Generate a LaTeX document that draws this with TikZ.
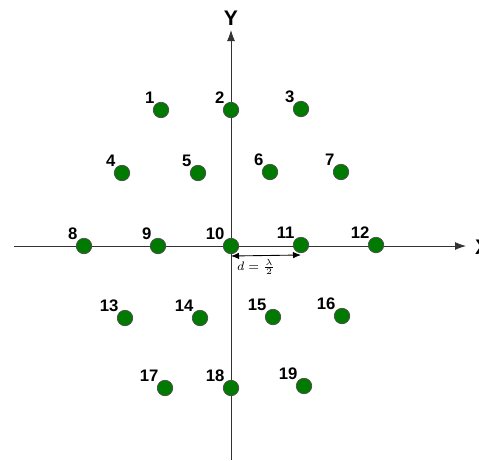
\documentclass[tikz,border=0pt]{standalone}
\usepackage{fontspec}
\setmainfont{Liberation Sans}
\usepackage{tikz}
\usetikzlibrary{arrows.meta}
\definecolor{DGreen}{HTML}{007A00}
\definecolor{AGray}{HTML}{333333}

\begin{document}
\begin{tikzpicture}[
  x=0.02cm,y=-0.02cm,
  dot/.style={circle,draw=black!70,fill=DGreen,minimum size=0.31cm,inner sep=0pt},
  lbl/.style={font=\bfseries\fontsize{9.5}{10}\selectfont,inner sep=1pt},
  ax/.style={-{Latex[length=2.2mm,width=1.6mm]},color=AGray,line width=0.5pt},
  dim/.style={{Latex[length=1.6mm,width=1.3mm]}-{Latex[length=1.6mm,width=1.3mm]},line width=0.5pt}
]
  \useasboundingbox (0,0) rectangle (479,460);
  % axes
  \coordinate (xl) at (14,246);
  \coordinate (xr) at (466,246);
  \coordinate (yb) at (231,460);
  \coordinate (yt) at (231,30);
  \draw[ax] (xl) -- (xr);
  \draw[ax] (yb) -- (yt);
  \node[font=\bfseries\fontsize{12}{13}\selectfont,anchor=west] (xlab) at (469,247) {X};
  \node[font=\bfseries\fontsize{12}{13}\selectfont] (ylab) at (231,18) {Y};
  % array elements
  \foreach \x/\y/\n in {161/110/1,231/110/2,301/109/3,
      122/173/4,198/173/5,270/172/6,341/172/7,
      84/246/8,158/246/9,231/246/10,301/245/11,376/245/12,
      125/318/13,200/318/14,273/317/15,342/316/16,
      165/388/17,231/388/18,304/386/19}
    \node[dot,label={[lbl,label distance=-1pt]135:\n}] (e\n) at (\x,\y) {};
  % spacing
  \draw[dim] ([yshift=-0.2cm]e10.center) -- ([yshift=-0.2cm]e11.center);
  \node[font=\fontsize{7.5}{8}\selectfont,inner sep=0pt] (d) at (256,267) {$d=\frac{\lambda}{2}$};
\end{tikzpicture}
\end{document}
